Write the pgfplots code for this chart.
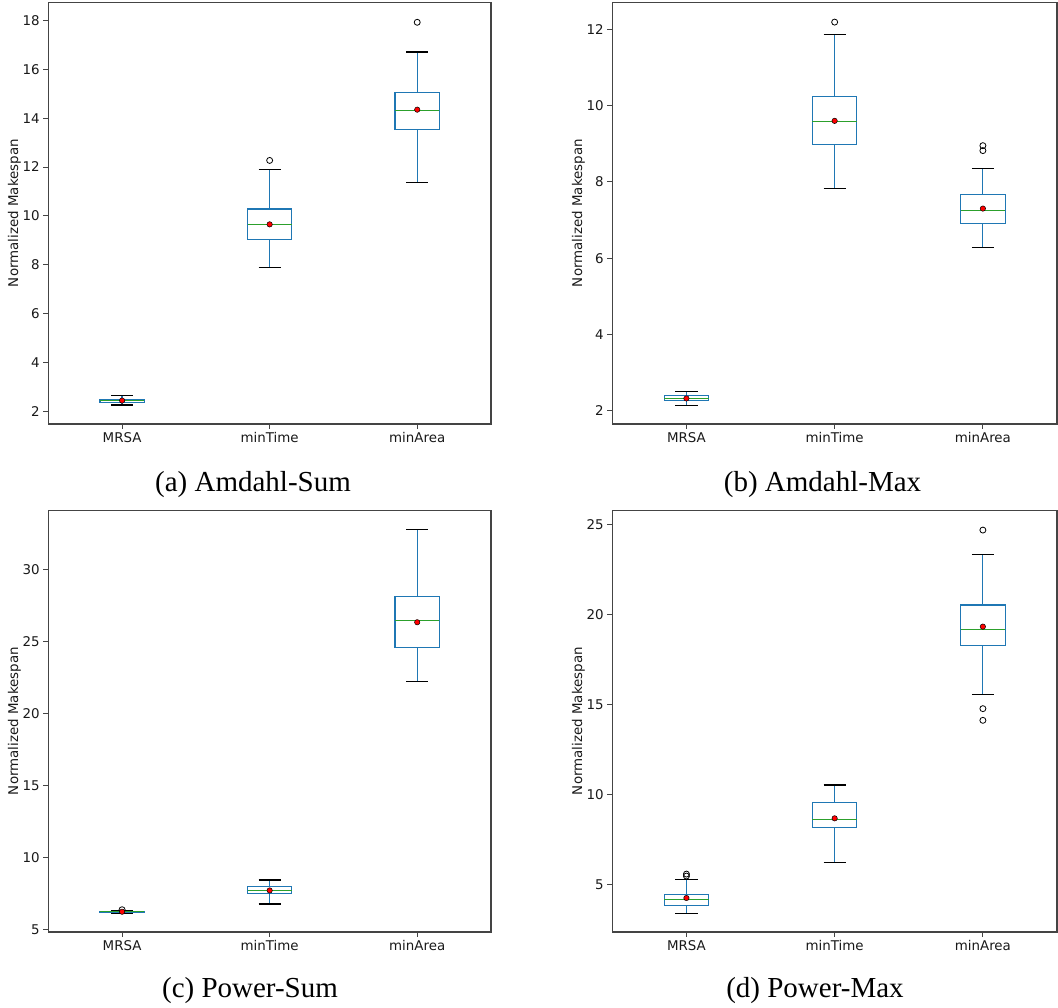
\documentclass[border=0pt]{standalone}
\usepackage{fontspec}
\setmainfont{Liberation Serif}
\setsansfont{DejaVu Sans}
\usepackage{pgfplots}
\pgfplotsset{compat=1.18}

\definecolor{mplblue}{HTML}{1F77B4}
\definecolor{mplgreen}{HTML}{2CA02C}
\definecolor{spine}{HTML}{444444}

\pgfplotsset{
  boxpanel/.style={
    scale only axis, height=421.7pt,
    xmin=0.5, xmax=3.5, xtick={1,2,3},
    xticklabels={MRSA,minTime,minArea},
    tick align=outside, tick pos=left,
    major tick length=5pt,
    every tick/.style={spine, line width=1pt},
    axis line style={spine, line width=1.2pt},
    ylabel={Normalized Makespan}, ylabel shift=-5pt,
    tick label style={font=\sffamily\fontsize{13.4}{15}\selectfont, text=black!90},
    label style={font=\sffamily\fontsize{13.4}{15}\selectfont, text=black!90},
    /pgf/number format/assume math mode=true,
  },
  bxline/.style={mplblue, line width=1.2pt, no marks},
  capline/.style={black, line width=1.2pt, no marks},
  medline/.style={mplgreen, line width=1.2pt, no marks},
  meanmark/.style={only marks, mark=*, mark size=2.7pt,
    mark options={fill=red, draw=black, line width=0.5pt}},
  outmark/.style={only marks, mark=o, mark size=3pt,
    mark options={draw=black, line width=0.8pt}},
}

% one box: position, lower whisker, lower quartile, median, upper quartile, upper whisker
\newcommand\bx[6]{%
  \pgfmathsetmacro\bxl{#1-0.15}\pgfmathsetmacro\bxr{#1+0.15}%
  \pgfmathsetmacro\capl{#1-0.075}\pgfmathsetmacro\capr{#1+0.075}%
  \edef\bxtmp{%
    \noexpand\addplot[bxline] coordinates {(#1,#3)(\bxr,#3)(\bxr,#5)(\bxl,#5)(\bxl,#3)(#1,#3)};
    \noexpand\addplot[bxline] coordinates {(#1,#3)(#1,#2)};
    \noexpand\addplot[bxline] coordinates {(#1,#5)(#1,#6)};
    \noexpand\addplot[capline] coordinates {(\capl,#2)(\capr,#2)};
    \noexpand\addplot[capline] coordinates {(\capl,#6)(\capr,#6)};
    \noexpand\addplot[medline] coordinates {(\bxl,#4)(\bxr,#4)};
  }\bxtmp}

\begin{document}
\begin{tikzpicture}
\useasboundingbox (0,0) rectangle (1058pt,1008pt);

% (a) Amdahl-Sum
\begin{axis}[boxpanel, width=442.7pt, at={(48.3pt,584pt)}, anchor=south west,
  ymin=1.47, ymax=18.75, ytick={2,4,...,18}]
\bx{1}{2.25}{2.36}{2.42}{2.48}{2.64}
\bx{2}{7.87}{9.03}{9.63}{10.28}{11.91}
\bx{3}{11.37}{13.55}{14.30}{15.06}{16.71}
\addplot[outmark] coordinates {(2,12.27)(3,17.93)};
\addplot[meanmark] coordinates {(1,2.43)(2,9.65)(3,14.35)};
\end{axis}

% (b) Amdahl-Max
\begin{axis}[boxpanel, width=444.7pt, at={(612.3pt,584pt)}, anchor=south west,
  ymin=1.65, ymax=12.71, ytick={2,4,...,12}]
\bx{1}{2.14}{2.27}{2.31}{2.40}{2.51}
\bx{2}{7.83}{8.98}{9.59}{10.23}{11.87}
\bx{3}{6.28}{6.91}{7.24}{7.66}{8.36}
\addplot[outmark] coordinates {(2,12.19)(3,8.95)(3,8.82)};
\addplot[meanmark] coordinates {(1,2.32)(2,9.60)(3,7.30)};
\end{axis}

% (c) Power-Sum
\begin{axis}[boxpanel, width=442.7pt, at={(48.3pt,76pt)}, anchor=south west,
  ymin=4.81, ymax=34.15, ytick={5,10,...,30}]
\bx{1}{6.12}{6.17}{6.21}{6.25}{6.30}
\bx{2}{6.76}{7.48}{7.71}{7.96}{8.43}
\bx{3}{22.24}{24.62}{26.50}{28.14}{32.80}
\addplot[outmark] coordinates {(1,6.36)};
\addplot[meanmark] coordinates {(1,6.22)(2,7.70)(3,26.36)};
\end{axis}

% (d) Power-Max
\begin{axis}[boxpanel, width=444.7pt, at={(612.3pt,76pt)}, anchor=south west,
  ymin=2.35, ymax=25.80, ytick={5,10,...,25}]
\bx{1}{3.39}{3.84}{4.15}{4.43}{5.28}
\bx{2}{6.22}{8.17}{8.61}{9.54}{10.52}
\bx{3}{15.55}{18.27}{19.18}{20.53}{23.33}
\addplot[outmark] coordinates {(1,5.57)(1,5.46)(3,24.70)(3,14.77)(3,14.12)};
\addplot[meanmark] coordinates {(1,4.24)(2,8.67)(3,19.33)};
\end{axis}

\begin{scope}[every node/.style={font=\fontsize{29}{32}\selectfont, anchor=base}]
\node at (253pt,516pt) {(a) Amdahl-Sum};
\node at (822.5pt,516pt) {(b) Amdahl-Max};
\node at (250pt,10pt) {(c) Power-Sum};
\node at (815pt,10pt) {(d) Power-Max};
\end{scope}
\end{tikzpicture}
\end{document}
